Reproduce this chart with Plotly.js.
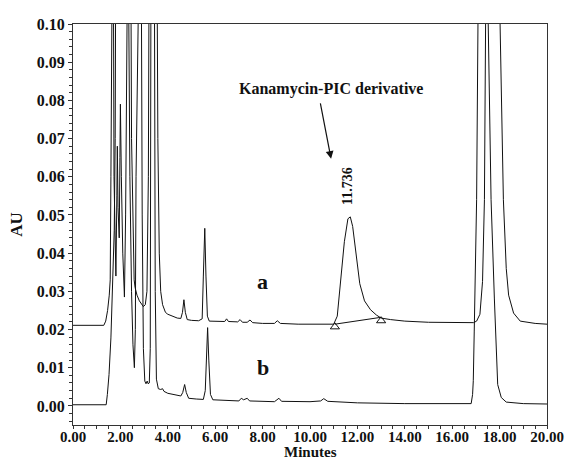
<!DOCTYPE html>
<html>
<head>
<meta charset="utf-8">
<script src="https://cdn.plot.ly/plotly-3.0.1.min.js"></script>
<style>
  html, body { margin: 0; padding: 0; background: #ffffff; }
  #chart { width: 565px; height: 461px; }
</style>
</head>
<body>
<div id="chart"></div>
<script>
// ---- Data (time in minutes, absorbance in AU) ----
// Trace a (sample with kanamycin)
const timeA = [0, 1.30, 1.38, 1.46, 1.53, 1.57, 1.60, 1.63, 1.69, 1.73, 1.78, 1.81, 1.85, 1.87, 1.90, 1.95, 1.98, 2.00, 2.04, 2.10, 2.17, 2.22, 2.28, 2.30, 2.42, 2.47, 2.53, 2.58, 2.62, 2.70, 2.80, 2.90, 2.97, 3.05, 3.12, 3.18, 3.23, 3.52, 3.58, 3.64, 3.70, 3.78, 3.90, 4.00, 4.20, 4.40, 4.55, 4.62, 4.68, 4.74, 4.82, 5.00, 5.30, 5.45, 5.50, 5.56, 5.61, 5.67, 5.75, 6.00, 6.40, 6.48, 6.56, 6.95, 7.05, 7.15, 7.35, 7.47, 7.58, 8.00, 8.50, 8.62, 8.75, 9.50, 10.00, 10.50, 11.00, 11.15, 11.30, 11.45, 11.60, 11.70, 11.80, 11.95, 12.10, 12.30, 12.55, 12.80, 13.00, 13.40, 14.00, 15.00, 16.00, 16.90, 17.03, 17.17, 17.28, 17.36, 17.42, 17.50, 17.90, 17.99, 18.16, 18.28, 18.38, 18.59, 18.87, 19.50, 20.00];
const absA  = [0.0211, 0.0211, 0.0222, 0.0250, 0.0290, 0.0330, 0.0600, 0.1500, 0.1500, 0.0600, 0.0400, 0.0340, 0.0550, 0.0680, 0.0520, 0.0440, 0.0650, 0.0790, 0.0600, 0.0400, 0.0285, 0.0500, 0.1000, 0.1500, 0.1500, 0.0700, 0.0420, 0.0330, 0.0310, 0.0290, 0.0275, 0.0265, 0.0260, 0.0265, 0.0300, 0.0600, 0.1500, 0.1500, 0.0700, 0.0400, 0.0300, 0.0265, 0.0245, 0.0240, 0.0234, 0.0230, 0.0229, 0.0245, 0.0278, 0.0245, 0.0226, 0.0224, 0.0223, 0.0228, 0.0340, 0.0465, 0.0340, 0.0235, 0.0222, 0.0221, 0.0221, 0.0228, 0.0221, 0.0220, 0.0226, 0.0219, 0.0219, 0.0225, 0.0218, 0.0216, 0.0216, 0.0223, 0.0216, 0.0214, 0.0214, 0.0214, 0.0214, 0.0235, 0.0330, 0.0430, 0.0490, 0.0495, 0.0470, 0.0395, 0.0320, 0.0275, 0.0252, 0.0238, 0.0230, 0.0226, 0.0222, 0.0219, 0.0218, 0.0218, 0.0222, 0.0240, 0.0326, 0.0540, 0.1100, 0.3000, 0.3000, 0.1100, 0.0540, 0.0360, 0.0290, 0.0243, 0.0222, 0.0216, 0.0214];

// Trace b (blank)
const timeB = [0, 1.40, 1.45, 1.52, 1.60, 1.66, 1.70, 1.74, 1.78, 1.82, 2.30, 2.40, 2.47, 2.53, 2.59, 2.63, 2.66, 2.69, 2.86, 2.92, 2.97, 3.03, 3.08, 3.13, 3.17, 3.22, 3.26, 3.30, 3.42, 3.47, 3.52, 3.60, 3.70, 3.78, 3.84, 4.00, 4.30, 4.55, 4.63, 4.71, 4.78, 4.88, 5.20, 5.50, 5.58, 5.64, 5.68, 5.73, 5.80, 5.90, 6.50, 7.00, 7.10, 7.20, 7.35, 7.45, 8.50, 8.69, 8.80, 10.00, 10.45, 10.58, 10.75, 12.00, 14.00, 16.00, 16.80, 16.86, 16.89, 16.93, 16.99, 17.03, 17.10, 17.20, 17.45, 17.52, 17.64, 17.78, 17.92, 18.07, 18.28, 19.00, 20.00];
const absB  = [0.0003, 0.0003, 0.0030, 0.0082, 0.0178, 0.0280, 0.0370, 0.0460, 0.0700, 0.1500, 0.1500, 0.0600, 0.0300, 0.0160, 0.0100, 0.0200, 0.0600, 0.1500, 0.1500, 0.0500, 0.0150, 0.0065, 0.0058, 0.0065, 0.0058, 0.0060, 0.0150, 0.1500, 0.1500, 0.0300, 0.0070, 0.0045, 0.0043, 0.0045, 0.0038, 0.0033, 0.0030, 0.0026, 0.0035, 0.0056, 0.0035, 0.0020, 0.0018, 0.0017, 0.0040, 0.0150, 0.0205, 0.0120, 0.0030, 0.0016, 0.0014, 0.0013, 0.0020, 0.0016, 0.0020, 0.0013, 0.0011, 0.0020, 0.0012, 0.0011, 0.0013, 0.0019, 0.0012, 0.0008, 0.0006, 0.0006, 0.0006, 0.0030, 0.0066, 0.0196, 0.0410, 0.0540, 0.1100, 0.3000, 0.3000, 0.1000, 0.0540, 0.0280, 0.0056, 0.0022, 0.0010, 0.0006, 0.0005];

// Integration baseline under the kanamycin peak (start / end markers)
const integTime = [11.05, 13.00];
const integAbs  = [0.0214, 0.0232];
const markerAbs = [0.0207, 0.0223];

// Peak label
const peakTime = 11.736;
const peakAbs = 0.0495;
const peakLabel = '11.736';

// Axis ticks
const xTicks = [0, 2, 4, 6, 8, 10, 12, 14, 16, 18, 20];
const xTickText = ['0.00', '2.00', '4.00', '6.00', '8.00', '10.00', '12.00', '14.00', '16.00', '18.00', '20.00'];
const yTicks = [0.00, 0.01, 0.02, 0.03, 0.04, 0.05, 0.06, 0.07, 0.08, 0.09, 0.10];
const yTickText = ['0.00', '0.01', '0.02', '0.03', '0.04', '0.05', '0.06', '0.07', '0.08', '0.09', '0.10'];

const serif = 'Liberation Serif, Times New Roman, serif';
const ink = '#111111';
const bold = s => '<b>' + s + '</b>';

const traces = [
  { x: timeA, y: absA, type: 'scatter', mode: 'lines', line: { color: ink, width: 1 }, hoverinfo: 'skip' },
  { x: timeB, y: absB, type: 'scatter', mode: 'lines', line: { color: ink, width: 1 }, hoverinfo: 'skip' },
  { x: integTime, y: integAbs, type: 'scatter', mode: 'lines', line: { color: ink, width: 1 }, hoverinfo: 'skip' },
  { x: integTime, y: markerAbs, type: 'scatter', mode: 'markers',
    marker: { symbol: 'triangle-up-open', size: 8, color: ink, line: { width: 1, color: ink } }, hoverinfo: 'skip' }
];

const layout = {
  width: 565, height: 461,
  margin: { l: 73, r: 18, t: 24, b: 36 },
  paper_bgcolor: '#ffffff', plot_bgcolor: '#ffffff',
  showlegend: false,
  font: { family: serif, color: ink },
  xaxis: {
    range: [0, 20], tickvals: xTicks, ticktext: xTickText.map(bold),
    ticks: 'outside', ticklen: 3, tickwidth: 1, tickcolor: '#333',
    minor: { dtick: 0.5, ticks: 'outside', ticklen: 3, tickcolor: '#333' },
    showline: true, linecolor: '#333', linewidth: 1, mirror: true,
    showgrid: false, zeroline: false, automargin: false,
    ticklabelstandoff: -5,
    tickfont: { family: serif, size: 15, color: ink }
  },
  yaxis: {
    range: [-0.005, 0.10], tickvals: yTicks, ticktext: yTickText.map(bold),
    ticks: 'outside', ticklen: 4, tickwidth: 1, tickcolor: '#333',
    minor: { dtick: 0.002, ticks: 'outside', ticklen: 3, tickcolor: '#333' },
    showline: true, linecolor: '#333', linewidth: 1, mirror: true,
    showgrid: false, zeroline: false, automargin: false,
    tickfont: { family: serif, size: 16, color: ink },
    title: { text: bold('AU'), font: { family: serif, size: 17, color: ink }, standoff: 9 }
  },
  annotations: [
    // x-axis title, placed in the bottom margin below the tick labels
    { x: 0.5, y: -0.0673, xref: 'paper', yref: 'paper', xanchor: 'center', yanchor: 'middle',
      text: bold('Minutes'), showarrow: false, font: { family: serif, size: 15, color: ink } },
    { x: 10.9, y: 0.0829, xref: 'x', yref: 'y', text: bold('Kanamycin-PIC derivative'), showarrow: false,
      font: { family: serif, size: 16, color: ink } },
    { x: 10.89, y: 0.0647, xref: 'x', yref: 'y', text: '', showarrow: true,
      ax: -11, ay: -57, arrowhead: 2, arrowsize: 1.3, arrowwidth: 1.2, arrowcolor: ink },
    { x: peakTime, y: peakAbs, xref: 'x', yref: 'y', text: bold(peakLabel), showarrow: false, textangle: -90,
      yanchor: 'bottom', yshift: 10, xshift: -3,
      font: { family: serif, size: 14, color: ink } },
    { x: 8.0, y: 0.0325, xref: 'x', yref: 'y', text: bold('a'), showarrow: false,
      font: { family: serif, size: 22, color: ink } },
    { x: 8.0, y: 0.0100, xref: 'x', yref: 'y', text: bold('b'), showarrow: false,
      font: { family: serif, size: 22, color: ink } }
  ]
};

Plotly.newPlot('chart', traces, layout, { staticPlot: true, displayModeBar: false });
</script>
</body>
</html>
